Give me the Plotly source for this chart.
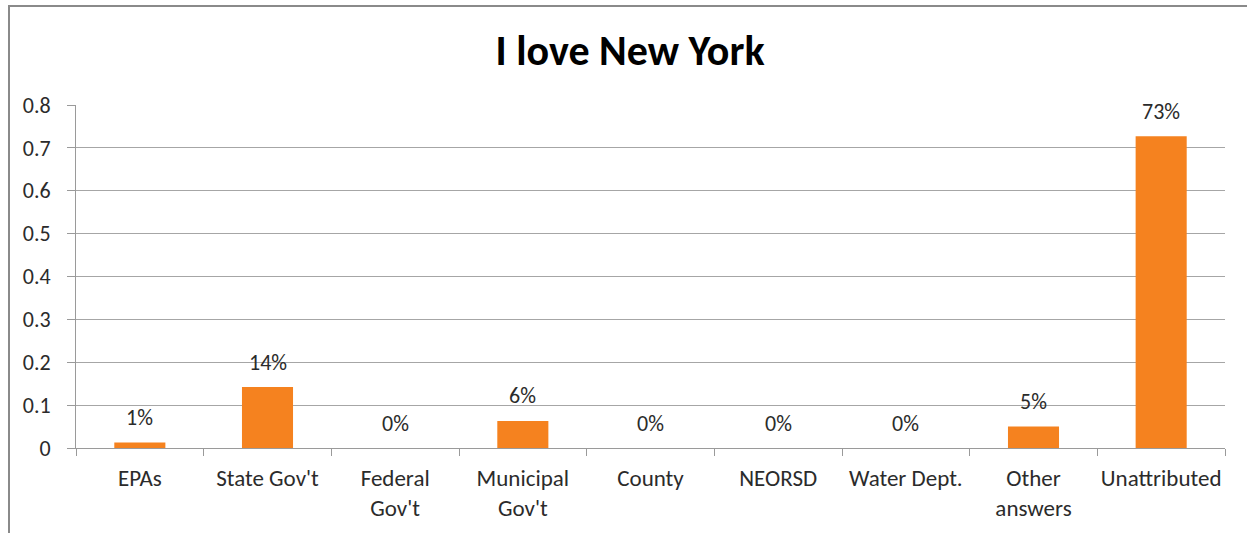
import plotly.graph_objects as go

categories = ["EPAs", "State Gov't", "Federal<br>Gov't", "Municipal<br>Gov't", "County",
              "NEORSD", "Water Dept.", "Other<br>answers", "Unattributed"]
values = [0.013, 0.142, 0.0, 0.063, 0.0, 0.0, 0.0, 0.05, 0.727]
labels = ["1%", "14%", "0%", "6%", "0%", "0%", "0%", "5%", "73%"]
y_ticks = [0, 0.1, 0.2, 0.3, 0.4, 0.5, 0.6, 0.7, 0.8]

FONT = "Carlito, Lato, 'Liberation Sans', sans-serif"
W, H = 1247, 533
ML, MR, MT, MB = 76, 22, 105, 85
PW, PH = W - ML - MR, H - MT - MB

fig = go.Figure()
fig.add_trace(go.Bar(x=categories, y=values, marker=dict(color="#F5821F", line=dict(width=0)),
                     width=0.4, hoverinfo="skip"))

for c, v, t in zip(categories, values, labels):
    fig.add_annotation(x=c, y=v, text=t, showarrow=False, yanchor="middle", yshift=25,
                       font=dict(family=FONT, size=22, color="#2B2B2B"))

def px(x):
    return (x - ML) / PW

def py(y):
    return 1 - (y - MT) / PH

fig.add_shape(type="rect", xref="paper", yref="paper",
              x0=px(9), x1=px(1262), y0=py(6), y1=py(545),
              line=dict(color="#8A8A8A", width=2), fillcolor="rgba(0,0,0,0)", layer="below")

fig.update_layout(
    width=W, height=H,
    margin=dict(l=ML, r=MR, t=MT, b=MB, autoexpand=False),
    paper_bgcolor="white", plot_bgcolor="white",
    showlegend=False,
    title=dict(text="<b>I love New York</b>", x=px(630), xref="paper", xanchor="center",
               y=1 - 50 / H, yanchor="middle",
               font=dict(family=FONT, size=42, color="black")),
    font=dict(family=FONT, size=23, color="#2B2B2B"),
    xaxis=dict(type="category", showgrid=False, showline=True, linecolor="#9A9A9A", linewidth=1,
               ticks="outside", tickson="boundaries", ticklen=7, tickcolor="#9A9A9A",
               ticklabelstandoff=9, tickangle=0, automargin=False,
               tickfont=dict(family=FONT, size=23, color="#2B2B2B")),
    yaxis=dict(range=[0, 0.8], tickvals=y_ticks, showgrid=True, gridcolor="#A6A6A6", gridwidth=1,
               showline=True, linecolor="#9A9A9A", linewidth=1, ticks="outside", ticklen=8,
               tickcolor="#9A9A9A", zeroline=False, ticklabelstandoff=12, automargin=False,
               tickfont=dict(family=FONT, size=22, color="#2B2B2B")),
)

fig.write_html("out.html", config={"displayModeBar": False},
               post_script="document.body.style.margin='0';")
